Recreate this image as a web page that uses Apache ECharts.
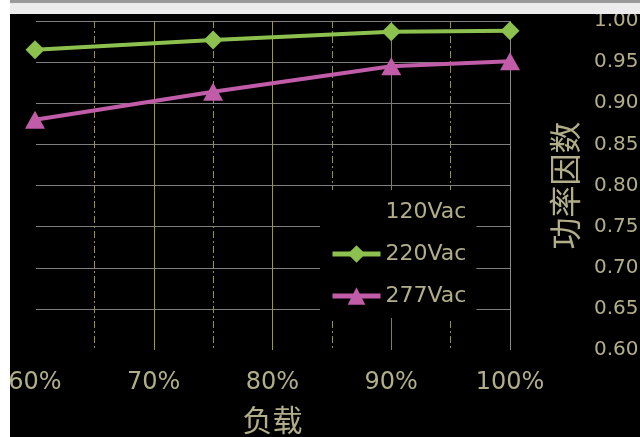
<!DOCTYPE html>
<html><head><meta charset="utf-8">
<script src="https://cdn.jsdelivr.net/npm/echarts@6/dist/echarts.min.js"></script>
<style>html,body{margin:0;padding:0;background:#000;}#c{width:640px;height:437px;}</style>
</head><body><div id="c"></div>
<script>
const loads = [60, 75, 90, 100];
const xTicks = [60, 70, 80, 90, 100];
const seriesNames = ['120Vac', '220Vac', '277Vac'];
const pf120 = [];
const pf220 = [0.965, 0.977, 0.987, 0.988];
const pf277 = [0.880, 0.914, 0.945, 0.951];
const yMin = 0.60, yMax = 1.00, yStep = 0.05;

const labelColor = '#b2ae8a';
const font = 'DejaVu Sans';
const cjk = '"Noto Sans CJK SC", "DejaVu Sans"';
const green = '#8cc14f', pink = '#c15ca8';

const pairs = v => loads.slice(0, v.length).map((x, i) => [x, v[i]]);

const chart = echarts.init(document.getElementById('c'));
chart.setOption({
  backgroundColor: '#000',
  animation: false,
  grid: { left: 35, right: 130, top: 21, bottom: 87, containLabel: false, outerBoundsMode: 'none' },
  xAxis: {
    type: 'value', min: xTicks[0], max: xTicks[xTicks.length - 1], interval: 10,
    name: '负载', nameLocation: 'middle', nameGap: 55,
    nameTextStyle: { color: labelColor, fontSize: 30, fontFamily: cjk },
    axisLine: { show: false }, axisTick: { show: false },
    axisLabel: { color: labelColor, fontSize: 24, fontFamily: font, margin: 21, formatter: '{value}%' },
    splitLine: { show: true, lineStyle: { color: ['#000', '#a69c1c', '#a69c1c', '#7c7c6c', '#8a8a8a'], width: 1 } },
    minorTick: { show: false, splitNumber: 2 },
    minorSplitLine: { show: true, lineStyle: { color: '#9a9430', width: 1, type: [7, 3, 2, 3] } }
  },
  yAxis: {
    type: 'value', position: 'right', min: yMin, max: yMax, interval: yStep,
    name: '功率因数', nameLocation: 'middle', nameGap: 39, nameRotate: 90, nameMoveOverlap: false,
    nameTextStyle: { color: labelColor, fontSize: 32, fontFamily: cjk },
    axisLine: { show: false }, axisTick: { show: false },
    axisLabel: { color: labelColor, fontSize: 20, fontFamily: font, margin: 84, formatter: v => v.toFixed(2) },
    splitLine: { show: true, lineStyle: { color: ['#000', '#7f7f7f', '#7f7f7f', '#7f7f7f', '#7f7f7f', '#7f7f7f', '#7f7f7f', '#7f7f7f', '#7f7f7f'], width: 1 } }
  },
  legend: {
    data: [
      { name: seriesNames[0] },
      { name: seriesNames[1], lineStyle: { width: 5 } },
      { name: seriesNames[2], lineStyle: { width: 5 } }
    ],
    orient: 'vertical', left: 320, top: 190,
    padding: [10, 10, 10, 10], itemGap: 18, itemWidth: 48, itemHeight: 22,
    backgroundColor: '#000',
    textStyle: { color: labelColor, fontSize: 22, fontFamily: font, lineHeight: 24 }
  },
  series: [
    { name: seriesNames[0], type: 'line', data: pairs(pf120), symbol: 'none',
      itemStyle: { color: '#000' }, lineStyle: { color: '#000', width: 4 } },
    { name: seriesNames[1], type: 'line', data: pairs(pf220), symbol: 'diamond', symbolSize: 19,
      itemStyle: { color: green }, lineStyle: { color: green, width: 4 } },
    { name: seriesNames[2], type: 'line', data: pairs(pf277), symbol: 'triangle', symbolSize: [20, 18],
      itemStyle: { color: pink }, lineStyle: { color: pink, width: 4 } }
  ],
  graphic: [
    { type: 'rect', left: 0, top: 0, shape: { width: 640, height: 14 }, style: { fill: '#ececec' }, z: 100 },
    { type: 'rect', left: 0, top: 0, shape: { width: 640, height: 3 }, style: { fill: '#9a9a9a' }, z: 101 },
    { type: 'rect', left: 0, top: 0, shape: { width: 10, height: 437 }, style: { fill: '#ffffff' }, z: 102 }
  ]
});
</script></body></html>
